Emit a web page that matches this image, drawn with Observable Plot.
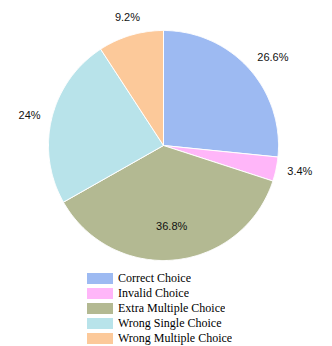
<!DOCTYPE html>
<html>
<head>
<meta charset="utf-8">
<script src="https://cdn.jsdelivr.net/npm/d3@7"></script>
<script src="https://cdn.jsdelivr.net/npm/@observablehq/plot@0.6"></script>
<style>
  body { margin: 0; background: #fff; }
  #chart svg { display: block; }
  #legend { position: absolute; left: 87px; top: 271px; }
  #legend div, #legend span { font-family: "Liberation Serif", "Times New Roman", serif !important; font-size: 12px !important; color: #000 !important; }
  #legend > div { margin: 0 !important; }
  #legend .lg-swatch { line-height: 14px !important; padding-bottom: 1px !important; }
  #legend .lg-swatch > svg { margin-right: 5px !important; }
</style>
</head>
<body>
<div id="chart"></div>
<div id="legend"></div>
<script>
const categories = ["Correct Choice", "Invalid Choice", "Extra Multiple Choice", "Wrong Single Choice", "Wrong Multiple Choice"];
const values = [26.6, 3.4, 36.8, 24, 9.2];
const labels = ["26.6%", "3.4%", "36.8%", "24%", "9.2%"];
const colors = ["#9dbaf2", "#ffb6f9", "#b3b992", "#b8e3ea", "#fcc99a"];

const data = categories.map((c, i) => ({category: c, value: values[i], label: labels[i]}));
const arcs = d3.pie().sort(null).value(d => d.value)(data);

// polygon points for each sector in unit-circle coordinates
const pts = [];
arcs.forEach(a => {
  const key = a.data.category;
  pts.push({key, x: 0, y: 0});
  const n = Math.max(2, Math.ceil((a.endAngle - a.startAngle) / 0.01));
  for (let k = 0; k <= n; k++) {
    const t = a.startAngle + (a.endAngle - a.startAngle) * k / n;
    pts.push({key, x: Math.sin(t), y: Math.cos(t)});
  }
  pts.push({key, x: 0, y: 0});
});

const labelPts = arcs.map(a => {
  const m = (a.startAngle + a.endAngle) / 2;
  const s = Math.sin(m), c = Math.cos(m);
  const inside = a.data.value > 30;
  const r = inside ? 0.71 : 1.1;
  const textAnchor = inside ? "middle" : (s > 0.5 ? "start" : s < -0.5 ? "end" : "middle");
  const lineAnchor = inside ? "middle" : (c > 0.5 ? "bottom" : c < -0.5 ? "top" : "middle");
  return {label: a.data.label, x: r * s, y: r * c, textAnchor, lineAnchor};
});

const color = {domain: categories, range: colors};

const textMarks = ["start", "middle", "end"].flatMap(ta => ["top", "middle", "bottom"].map(la =>
  Plot.text(labelPts.filter(d => d.textAnchor === ta && d.lineAnchor === la), {
    x: "x", y: "y", text: "label", textAnchor: ta, lineAnchor: la,
    dy: (ta === "middle" && la === "bottom") ? -3 : 0,
    fontSize: 11, fill: "#111", fontFamily: "Liberation Sans, Arial, sans-serif"
  })
));

const chart = Plot.plot({
  width: 332,
  height: 265,
  margin: 0,
  x: {domain: [-1, 1], range: [48, 278], axis: null},
  y: {domain: [-1, 1], range: [260, 30], axis: null},
  color,
  marks: [
    Plot.line(pts, {x: "x", y: "y", z: "key", fill: "key", stroke: "#fff", strokeWidth: 1, curve: "linear"}),
    ...textMarks
  ]
});
document.getElementById("chart").appendChild(chart);

const legend = Plot.legend({
  color,
  legend: "swatches",
  columns: 1,
  swatchWidth: 26,
  swatchHeight: 11,
  className: "lg"
});
document.getElementById("legend").appendChild(legend);
</script>
</body>
</html>
